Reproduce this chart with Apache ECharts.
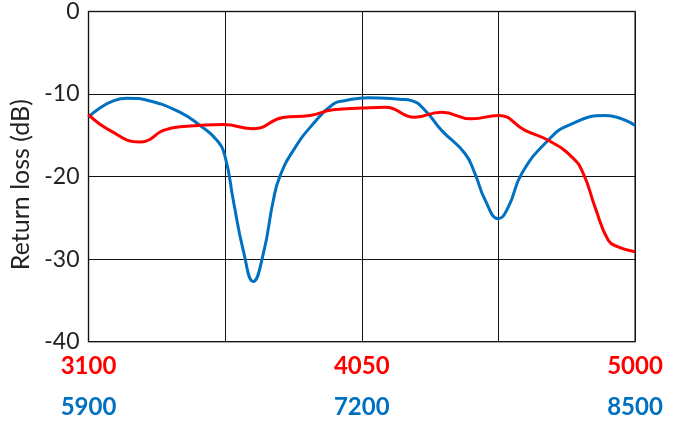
<!DOCTYPE html>
<html><head><meta charset="utf-8">
<script src="https://cdn.jsdelivr.net/npm/echarts@6/dist/echarts.min.js"></script>
<style>html,body{margin:0;padding:0;background:#fff}#c{width:675px;height:424px}</style>
</head><body><div id="c"></div>
<script>
// Red band (MHz) and blue band (MHz) frequency samples with return loss (dB)
const redFreq = [3100,3174,3279,3301,3360,3442,3569,3674,3776,3870,3951,4050,4132,4234,4327,4432,4525,4618,4698,4780,4820,4861,4907,4941,5000];
const redLoss = [-12.5,-14.4,-15.8,-15.7,-14.4,-13.9,-13.7,-14.2,-12.85,-12.6,-11.9,-11.7,-11.6,-12.8,-12.2,-13.0,-12.6,-14.4,-15.6,-17.6,-19.6,-23.7,-27.7,-28.5,-29.1];
const blueFreq = [5900,6082,6193,6334,6430,6511,6550,6589,6636,6684,6732,6779,6810,6875,6969,7065,7119,7231,7390,7437,7502,7580,7691,7738,7788,7850,7897,7962,8087,8183,8357,8500];
const blueLoss = [-12.8,-10.5,-10.85,-12.2,-13.8,-15.6,-17.6,-22.9,-28.9,-32.7,-29.3,-22.9,-20.0,-16.8,-13.6,-11.2,-10.8,-10.45,-10.65,-10.8,-12.0,-14.4,-17.2,-19.6,-22.9,-25.1,-23.7,-19.6,-15.6,-13.8,-12.6,-13.8];
const redTicks = [3100, 4050, 5000];
const blueTicks = [5900, 7200, 8500];
const yTicks = [0, -10, -20, -30, -40];
const yName = 'Return loss (dB)';

const redColor = '#FF0000', blueColor = '#0070C0';
const chart = echarts.init(document.getElementById('c'), null, {renderer: 'canvas'});
const font = 'Lato, "Open Sans", sans-serif';
const plain = v => String(v);
chart.setOption({
  animation: false,
  grid: {left: 88.5, right: 40, top: 11, bottom: 82.3, show: true, borderColor: '#555', borderWidth: 1.5, backgroundColor: 'transparent'},
  xAxis: [
    {type: 'value', min: redTicks[0], max: redTicks[redTicks.length-1], position: 'bottom',
     axisLine: {show: false}, axisTick: {show: false}, splitLine: {show: false},
     axisLabel: {customValues: redTicks, formatter: plain, color: redColor, fontWeight: 'bold', fontSize: 24, fontFamily: font, margin: 13}},
    {type: 'value', min: blueTicks[0], max: blueTicks[blueTicks.length-1], position: 'bottom', offset: 41,
     axisLine: {show: false}, axisTick: {show: false}, splitLine: {show: false},
     axisLabel: {customValues: blueTicks, formatter: plain, color: blueColor, fontWeight: 'bold', fontSize: 24, fontFamily: font, margin: 13}},
    {type: 'value', min: 0, max: 4, interval: 1, position: 'top',
     axisLine: {show: false}, axisTick: {show: false}, axisLabel: {show: false},
     splitLine: {show: true, lineStyle: {color: '#111', width: 1}}}
  ],
  yAxis: {type: 'value', min: yTicks[yTicks.length-1], max: yTicks[0], interval: 10,
    name: yName, nameLocation: 'middle', nameGap: 50, nameRotate: 90,
    nameTextStyle: {fontSize: 25, color: '#222', fontFamily: font, padding: [0, 0, 0, -16]},
    axisLine: {show: false}, axisTick: {show: false},
    axisLabel: {color: '#222', fontSize: 23, fontFamily: font, margin: 9, formatter: plain},
    splitLine: {show: true, lineStyle: {color: '#111', width: 1}}},
  series: [
    {type: 'line', xAxisIndex: 1, data: blueFreq.map((f,i)=>[f, blueLoss[i]]), smooth: 0.5, showSymbol: false,
     lineStyle: {color: blueColor, width: 3}},
    {type: 'line', xAxisIndex: 0, data: redFreq.map((f,i)=>[f, redLoss[i]]), smooth: 0.5, showSymbol: false,
     lineStyle: {color: redColor, width: 3}}
  ]
});
</script></body></html>
